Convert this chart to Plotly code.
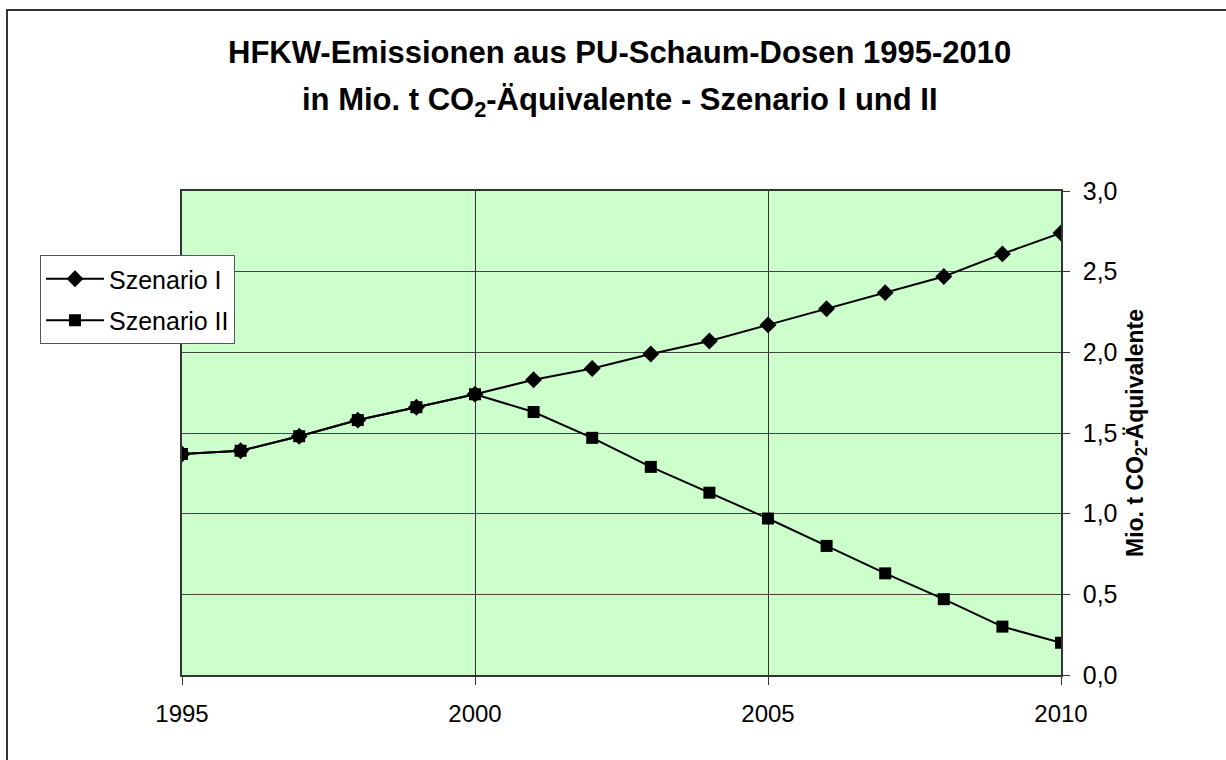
import plotly.graph_objects as go

years = list(range(1995, 2011))
szenario_1 = [1.37, 1.39, 1.48, 1.58, 1.66, 1.74, 1.83, 1.90, 1.99, 2.07, 2.17, 2.27, 2.37, 2.47, 2.61, 2.74]
szenario_2 = [1.37, 1.39, 1.48, 1.58, 1.66, 1.74, 1.63, 1.47, 1.29, 1.13, 0.97, 0.80, 0.63, 0.47, 0.30, 0.20]
series_names = ["Szenario I", "Szenario II"]
x_ticks = [1995, 2000, 2005, 2010]
y_ticks = [0.0, 0.5, 1.0, 1.5, 2.0, 2.5, 3.0]

FONT = "Arial, Liberation Sans, sans-serif"

W, H = 1226, 760
L, R, T, B = 182, 165, 191, 85
pw, ph = W - L - R, H - T - B

def px(x):
    return (x - L) / pw

def py(y):
    return (H - B - y) / ph

fig = go.Figure()
fig.add_trace(go.Scatter(
    x=years, y=szenario_1, name=series_names[0], mode="lines+markers",
    line=dict(color="black", width=2),
    marker=dict(symbol="diamond", size=13, color="black"),
    legendgroup="a",
))
fig.add_trace(go.Scatter(
    x=years, y=szenario_2, name=series_names[1], mode="lines+markers",
    line=dict(color="black", width=2),
    marker=dict(symbol="square", size=12, color="black"),
    legendgroup="b",
))

fig.update_layout(
    width=W, height=H,
    margin=dict(l=L, r=R, t=T, b=B, pad=0),
    paper_bgcolor="white",
    plot_bgcolor="#CCFFCC",
    separators=",.",
    font=dict(family=FONT, size=24, color="black"),
    showlegend=True,
    legend=dict(
        x=px(40), y=py(255), xanchor="left", yanchor="top",
        bgcolor="white", bordercolor="#555555", borderwidth=1,
        font=dict(family=FONT, size=25, color="black"),
        tracegroupgap=6, traceorder="grouped", itemwidth=58,
    ),
    xaxis=dict(
        range=[1995, 2010], tickvals=x_ticks, ticktext=[str(v) for v in x_ticks],
        showgrid=True, gridcolor="#333333", gridwidth=1,
        showline=True, linecolor="#333333", linewidth=1.5, mirror=True,
        ticks="outside", ticklen=8, tickcolor="#333333",
        tickfont=dict(family=FONT, size=24, color="black"),
        ticklabelstandoff=8, zeroline=False,
    ),
    yaxis=dict(
        range=[0, 3], tickvals=y_ticks, tickformat=".1f", side="right",
        showgrid=True, gridcolor="#444444", gridwidth=1,
        showline=True, linecolor="#333333", linewidth=1.5, mirror=True,
        ticks="outside", ticklen=7, tickcolor="#333333",
        tickfont=dict(family=FONT, size=25, color="black"),
        ticklabelstandoff=8, zeroline=False,
        title=dict(text="<b>Mio. t CO<sub>2</sub>-Äquivalente</b>",
                   font=dict(family=FONT, size=23, color="black"), standoff=10),
    ),
    annotations=[
        dict(text="<b>HFKW-Emissionen aus PU-Schaum-Dosen 1995-2010</b>",
             xref="paper", yref="paper", x=px(619.5), y=py(52),
             xanchor="center", yanchor="middle", showarrow=False,
             font=dict(family=FONT, size=31, color="black")),
        dict(text="<b>in Mio. t CO<sub>2</sub>-Äquivalente - Szenario I und II</b>",
             xref="paper", yref="paper", x=px(619.5), y=py(102),
             xanchor="center", yanchor="middle", showarrow=False,
             font=dict(family=FONT, size=31, color="black")),
    ],
    shapes=[
        dict(type="rect", xref="paper", yref="paper",
             x0=px(7), x1=px(1240), y0=py(775), y1=py(10),
             line=dict(color="#333333", width=2), fillcolor="rgba(0,0,0,0)",
             layer="below"),
    ],
)

fig.write_html(
    "out.html",
    config={"displayModeBar": False},
    post_script="document.body.style.margin='0';document.body.style.overflow='hidden';",
)
